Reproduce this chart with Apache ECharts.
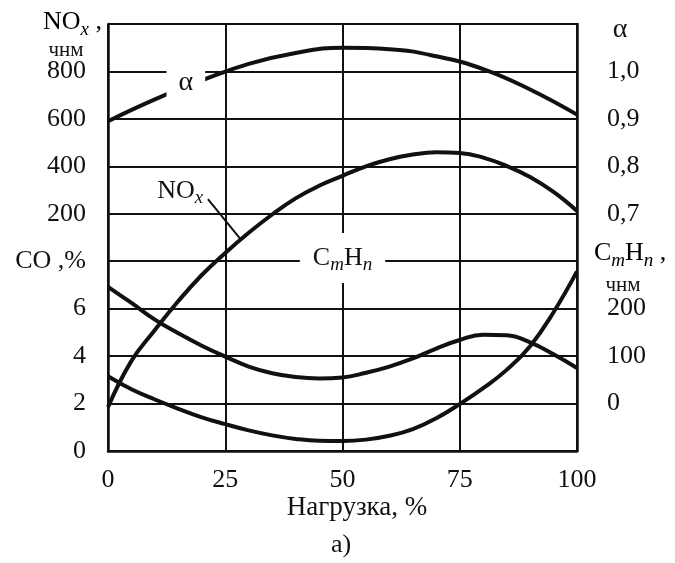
<!DOCTYPE html>
<html><head><meta charset="utf-8">
<script src="https://cdn.jsdelivr.net/npm/echarts@6/dist/echarts.min.js"></script>
<style>html,body{margin:0;padding:0;background:#fff}#c{width:675px;height:563px}</style>
</head><body><div id="c"></div>
<script>
// tick labels
const loadTicks = [0, 25, 50, 75, 100];
const coTicks = [0, 2, 4, 6];
const noxTicks = [200, 400, 600, 800];
const alphaTicks = [0.7, 0.8, 0.9, 1.0];
const chTicks = [0, 100, 200];

// series: load (%) and values
const alphaLoad = [0, 10, 20, 30, 40, 50, 60, 70, 80, 90, 100];
const alphaVal  = [0.895, 0.941, 0.981, 1.016, 1.039, 1.050, 1.047, 1.032, 1.005, 0.962, 0.909];

const noxLoad = [0, 5, 10, 15, 20, 25, 30, 35, 40, 45, 50, 55, 60, 65, 70, 75, 80, 85, 90, 95, 100];
const noxVal  = [-615, -420, -290, -168, -58, 35, 120, 197, 265, 318, 360, 400, 430, 450, 459, 456, 437, 402, 355, 292, 212];

const chLoad = [0, 5, 10, 15, 20, 25, 30, 35, 40, 45, 50, 55, 60, 65, 70, 75, 80, 85, 90, 95, 100];
const chVal  = [246, 212, 177, 148, 122, 99, 78, 64, 56, 53, 55, 65, 78, 95, 116, 134, 145, 144, 129, 104, 75];

const coLoad = [0, 5, 10, 15, 20, 25, 30, 35, 40, 45, 50, 55, 60, 65, 70, 75, 80, 85, 90, 95, 100];
const coVal  = [3.15, 2.6, 2.17, 1.78, 1.42, 1.13, 0.87, 0.66, 0.51, 0.43, 0.42, 0.48, 0.64, 0.92, 1.38, 1.98, 2.65, 3.42, 4.42, 5.85, 7.57];

const FONT = '"Liberation Serif", "Times New Roman", serif';
const ink = '#111';
const zip = (xs, ys) => xs.map((x, i) => [x, ys[i]]);
const has = (arr, v) => arr.some(t => Math.abs(t - v) < 1e-6);
const lbl = { fontFamily: FONT, fontSize: 26, color: ink };
const richMain = (fs) => ({ fontFamily: FONT, fontSize: fs, lineHeight: 34, color: ink });
const richSub = (fs) => ({ fontFamily: FONT, fontSize: fs, fontStyle: 'italic', lineHeight: 18, verticalAlign: 'bottom', color: ink });

const chart = echarts.init(document.getElementById('c'), null, { renderer: 'canvas' });
const curve = { type: 'line', smooth: 0.45, symbol: 'none', lineStyle: { color: ink, width: 4 }, z: 3, clip: false };
const mp = { symbol: 'rect', symbolSize: 1, itemStyle: { color: 'rgba(0,0,0,0)' }, silent: true, animation: false };

chart.setOption({
  backgroundColor: '#fff',
  animation: false,
  grid: { left: 108, right: 98, top: 24, bottom: 112, outerBoundsMode: 'none' },
  xAxis: {
    type: 'value', min: 0, max: 100, interval: 25,
    axisLine: { show: true, lineStyle: { color: ink, width: 2.5 } },
    axisTick: { show: false },
    axisLabel: { ...lbl, margin: 16, formatter: v => has(loadTicks, v) ? String(v) : '' },
    splitLine: { show: true, showMinLine: true, showMaxLine: true, lineStyle: { color: ink, width: 2 } }
  },
  yAxis: [
    { type: 'value', position: 'left', min: 0, max: 18, interval: 2,
      axisLine: { show: true, lineStyle: { color: ink, width: 2.5 } }, axisTick: { show: false },
      axisLabel: { ...lbl, margin: 22, formatter: v => has(coTicks, v) ? String(v) : (Math.abs(v - 8) < 1e-6 ? 'CO ,%' : '') },
      splitLine: { show: true, showMinLine: true, showMaxLine: true, lineStyle: { color: ink, width: 2 } } },
    { type: 'value', position: 'left', min: -800, max: 1000, interval: 200,
      axisLine: { show: false }, axisTick: { show: false }, splitLine: { show: false },
      axisLabel: { ...lbl, margin: 22, formatter: v => has(noxTicks, v) ? String(v) : '' } },
    { type: 'value', position: 'right', min: 0.2, max: 1.1, interval: 0.1,
      axisLine: { show: true, lineStyle: { color: ink, width: 2.5 } }, axisTick: { show: false }, splitLine: { show: false },
      axisLabel: { ...lbl, margin: 30, formatter: v => has(alphaTicks, v) ? v.toFixed(1).replace('.', ',') : '' } },
    { type: 'value', position: 'right', min: -100, max: 800, interval: 100,
      axisLine: { show: false }, axisTick: { show: false }, splitLine: { show: false },
      axisLabel: { ...lbl, margin: 30, formatter: v => has(chTicks, v) ? String(v) : '' } }
  ],
  series: [
    { ...curve, name: 'α', yAxisIndex: 2, data: zip(alphaLoad, alphaVal),
      markPoint: { ...mp, data: [{ coord: [16.6, 0.976], label: { show: true, position: 'inside', formatter: 'α',
        fontFamily: FONT, fontSize: 28, lineHeight: 26, color: ink, backgroundColor: '#fff', padding: [4, 12] } }] } },
    { ...curve, name: 'NOx', yAxisIndex: 1, data: zip(noxLoad, noxVal),
      markLine: { symbol: ['none', 'none'], silent: true, animation: false, label: { show: false },
        lineStyle: { color: ink, width: 2, type: 'solid' }, data: [[{ coord: [21.3, 262] }, { coord: [28.3, 92] }]] },
      markPoint: { ...mp, data: [{ coord: [15.4, 297], label: { show: true, position: 'inside', formatter: '{b|NO}{s|x}',
        rich: { b: richMain(26), s: richSub(19) } } }] } },
    { ...curve, name: 'CmHn', yAxisIndex: 3, data: zip(chLoad, chVal),
      markPoint: { ...mp, data: [{ coord: [50, 307], label: { show: true, position: 'inside', formatter: '{b|C}{s|m}{b|H}{s|n}',
        backgroundColor: '#fff', padding: [8, 13], rich: { b: richMain(26), s: richSub(19) } } }] } },
    { ...curve, name: 'CO', yAxisIndex: 0, data: zip(coLoad, coVal) }
  ],
  graphic: [
    { type: 'text', x: 43, y: 22, style: { text: '{b|NO}{s|x}{b| ,}', rich: { b: richMain(26), s: richSub(19) }, align: 'left', verticalAlign: 'middle' } },
    { type: 'text', x: 66, y: 50, style: { text: 'чнм', fontFamily: FONT, fontSize: 21, fill: ink, align: 'center', verticalAlign: 'middle' } },
    { type: 'text', x: 620, y: 30, style: { text: 'α', fontFamily: FONT, fontSize: 28, fill: ink, align: 'center', verticalAlign: 'middle' } },
    { type: 'text', x: 594, y: 253, style: { text: '{b|C}{s|m}{b|H}{s|n}{b| ,}', rich: { b: richMain(26), s: richSub(19) }, align: 'left', verticalAlign: 'middle' } },
    { type: 'text', x: 623, y: 285, style: { text: 'чнм', fontFamily: FONT, fontSize: 21, fill: ink, align: 'center', verticalAlign: 'middle' } },
    { type: 'text', x: 357, y: 508, style: { text: 'Нагрузка, %', fontFamily: FONT, fontSize: 27, fill: ink, align: 'center', verticalAlign: 'middle' } },
    { type: 'text', x: 341, y: 545, style: { text: 'а)', fontFamily: FONT, fontSize: 26, fill: ink, align: 'center', verticalAlign: 'middle' } }
  ]
});
</script></body></html>
